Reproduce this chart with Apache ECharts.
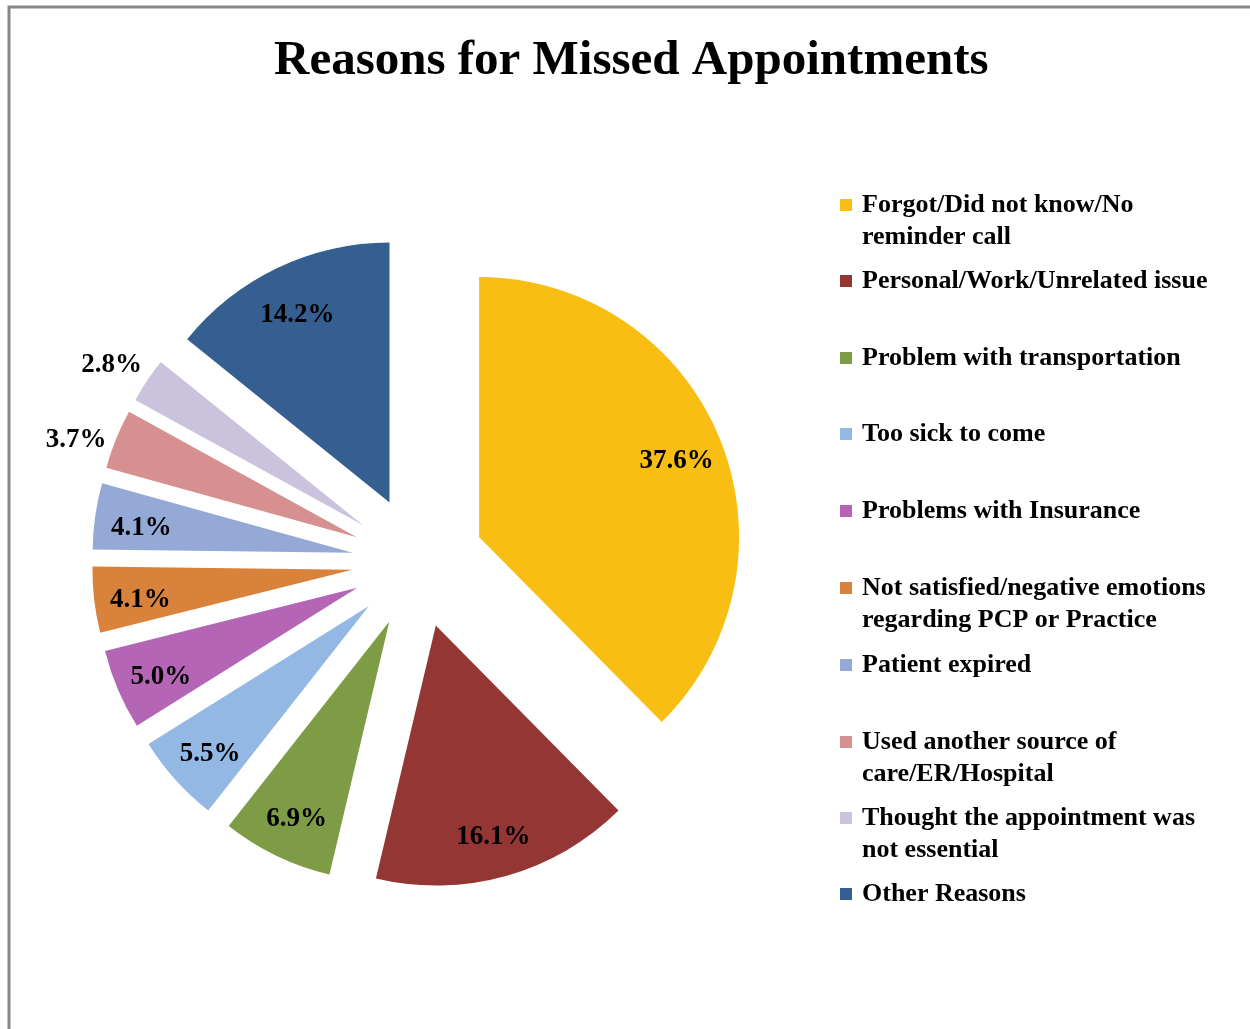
<!DOCTYPE html>
<html>
<head>
<meta charset="utf-8">
<style>
  html, body { margin: 0; padding: 0; background: #fff; }
  #chart { width: 1250px; height: 1029px; }
</style>
<script src="https://cdn.jsdelivr.net/npm/echarts@6/dist/echarts.min.js"></script>
</head>
<body>
<div id="chart"></div>
<script>
const categories = [
  'Forgot/Did not know/No\nreminder call',
  'Personal/Work/Unrelated issue',
  'Problem with transportation',
  'Too sick to come',
  'Problems with Insurance',
  'Not satisfied/negative emotions\nregarding PCP or Practice',
  'Patient expired',
  'Used another source of\ncare/ER/Hospital',
  'Thought the appointment was\nnot essential',
  'Other Reasons'
];
const values = [37.6, 16.1, 6.9, 5.5, 5.0, 4.1, 4.1, 3.7, 2.8, 14.2];
const palette = ['#F9BE14', '#943634', '#7E9B45', '#93B8E3', '#B565B5', '#D9823B', '#94A9D6', '#D69090', '#CBC3DD', '#365F91'];
const outsideIdx = [7, 8];

const serif = "'Liberation Serif', 'Times New Roman', serif";
const CX = 418, CY = 562, R = 260, OFF = 66;

// spacer line above each label nudges it down a little (Excel places them slightly lower)
function spacerKey(i) { return i === 7 ? 'sB' : (i === 8 ? 'sC' : 'sA'); }
function pctFmt(p) { return '{' + spacerKey(p.dataIndex) + '| }\n{v|' + p.value.toFixed(1) + '%}'; }

const baseData = (mapper) => categories.map((n, i) => Object.assign({ name: n, value: values[i], selected: true }, mapper ? mapper(i) : {}));

const pieCommon = {
  type: 'pie',
  center: [CX, CY],
  startAngle: 90,
  clockwise: true,
  selectedMode: 'multiple',
  selectedOffset: OFF,
  avoidLabelOverlap: false,
  animation: false,
  emphasis: { disabled: true },
  labelLine: { show: false }
};

const labelStyle = {
  position: 'inside',
  formatter: pctFmt,
  rich: {
    sA: { fontSize: 1, lineHeight: 11 },
    sB: { fontSize: 1, lineHeight: 34 },
    sC: { fontSize: 1, lineHeight: 18 },
    v: { color: '#000', fontFamily: serif, fontWeight: 'bold', fontSize: 27, lineHeight: 30 }
  }
};

// legend: one component per item so entries sit at fixed rows
const rowCenters = [203, 279, 356, 432, 509, 586, 663, 740, 816, 892];
const LH = 32;
const legends = categories.map((n, i) => {
  const twoLine = n.indexOf('\n') >= 0;
  return {
    orient: 'vertical',
    left: 840,
    top: rowCenters[i] + 2 - (twoLine ? 1.5 * LH : 0.5 * LH),
    padding: 0,
    itemWidth: 12,
    itemHeight: 12,
    icon: 'rect',
    selectedMode: false,
    data: [n],
    // a leading empty line keeps the marker level with the first text line
    formatter: twoLine ? (name => '\n' + name) : (name => name),
    textStyle: {
      fontFamily: serif,
      fontWeight: 'bold',
      fontSize: 26,
      color: '#000',
      lineHeight: LH,
      padding: [0, 0, 0, 5]
    }
  };
});

const option = {
  animation: false,
  color: palette,
  title: {
    text: 'Reasons for Missed Appointments',
    left: 274,
    top: 37,
    padding: 0,
    textStyle: { fontFamily: serif, fontWeight: 'bold', fontSize: 49, color: '#000' }
  },
  graphic: [{
    type: 'rect',
    silent: true,
    shape: { x: 9, y: 7, width: 1400, height: 1200 },
    style: { fill: 'none', stroke: '#888', lineWidth: 3 }
  }],
  legend: legends,
  series: [
    Object.assign({}, pieCommon, {
      name: 'main',
      radius: [0, R],
      label: { show: false },
      itemStyle: { borderWidth: 0 },
      data: baseData()
    }),
    Object.assign({}, pieCommon, {
      name: 'labelsIn',
      silent: true,
      radius: [Math.round(R * 0.62), R],
      itemStyle: { color: 'rgba(0,0,0,0)', borderWidth: 0 },
      label: labelStyle,
      data: baseData(i => ({ label: { show: outsideIdx.indexOf(i) < 0 } }))
    }),
    Object.assign({}, pieCommon, {
      name: 'labelsOut',
      silent: true,
      radius: [R + 20, R + 60],
      itemStyle: { color: 'rgba(0,0,0,0)', borderWidth: 0 },
      label: labelStyle,
      data: baseData(i => ({ label: { show: outsideIdx.indexOf(i) >= 0 } }))
    })
  ]
};

const chart = echarts.init(document.getElementById('chart'), null, { renderer: 'canvas' });
chart.setOption(option);
</script>
</body>
</html>
